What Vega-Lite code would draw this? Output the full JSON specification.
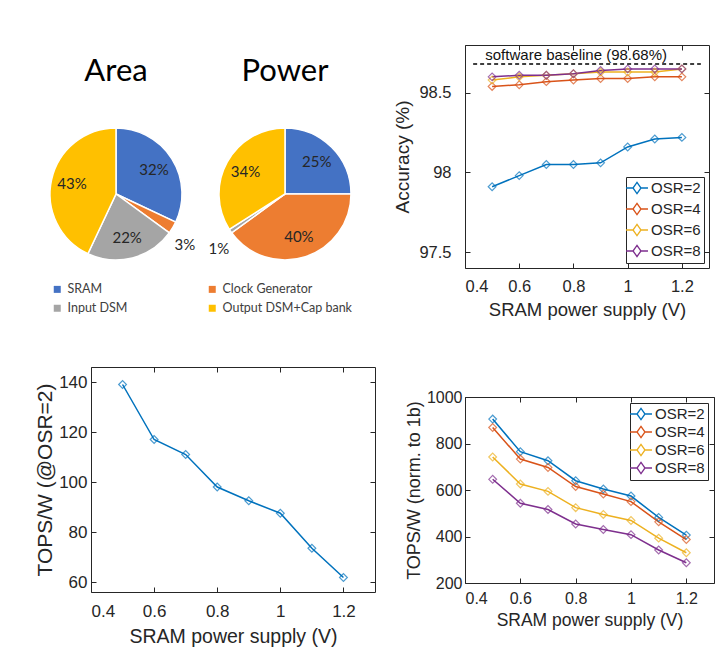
{
  "$schema": "https://vega.github.io/schema/vega-lite/v6.json",
  "autosize": {"type": "none"},
  "padding": {"left": 91, "top": 45, "right": 627, "bottom": 603},
  "background": "white",
  "datasets": {
    "pies": [
      {"chart": "Area", "part": "SRAM", "k": 1, "share": 0.32},
      {"chart": "Area", "part": "Clock Generator", "k": 2, "share": 0.03},
      {"chart": "Area", "part": "Input DSM", "k": 3, "share": 0.22},
      {"chart": "Area", "part": "Output DSM+Cap bank", "k": 4, "share": 0.43},
      {"chart": "Power", "part": "SRAM", "k": 1, "share": 0.25},
      {"chart": "Power", "part": "Clock Generator", "k": 2, "share": 0.40},
      {"chart": "Power", "part": "Input DSM", "k": 3, "share": 0.01},
      {"chart": "Power", "part": "Output DSM+Cap bank", "k": 4, "share": 0.34}
    ],
    "acc": [
      {"v": 0.5, "osr": "OSR=2", "acc": 97.91}, {"v": 0.6, "osr": "OSR=2", "acc": 97.98}, {"v": 0.7, "osr": "OSR=2", "acc": 98.05}, {"v": 0.8, "osr": "OSR=2", "acc": 98.05},
      {"v": 0.9, "osr": "OSR=2", "acc": 98.06}, {"v": 1.0, "osr": "OSR=2", "acc": 98.16}, {"v": 1.1, "osr": "OSR=2", "acc": 98.21}, {"v": 1.2, "osr": "OSR=2", "acc": 98.22},
      {"v": 0.5, "osr": "OSR=4", "acc": 98.54}, {"v": 0.6, "osr": "OSR=4", "acc": 98.55}, {"v": 0.7, "osr": "OSR=4", "acc": 98.57}, {"v": 0.8, "osr": "OSR=4", "acc": 98.58},
      {"v": 0.9, "osr": "OSR=4", "acc": 98.59}, {"v": 1.0, "osr": "OSR=4", "acc": 98.59}, {"v": 1.1, "osr": "OSR=4", "acc": 98.60}, {"v": 1.2, "osr": "OSR=4", "acc": 98.60},
      {"v": 0.5, "osr": "OSR=6", "acc": 98.58}, {"v": 0.6, "osr": "OSR=6", "acc": 98.60}, {"v": 0.7, "osr": "OSR=6", "acc": 98.61}, {"v": 0.8, "osr": "OSR=6", "acc": 98.62},
      {"v": 0.9, "osr": "OSR=6", "acc": 98.63}, {"v": 1.0, "osr": "OSR=6", "acc": 98.63}, {"v": 1.1, "osr": "OSR=6", "acc": 98.63}, {"v": 1.2, "osr": "OSR=6", "acc": 98.65},
      {"v": 0.5, "osr": "OSR=8", "acc": 98.60}, {"v": 0.6, "osr": "OSR=8", "acc": 98.61}, {"v": 0.7, "osr": "OSR=8", "acc": 98.61}, {"v": 0.8, "osr": "OSR=8", "acc": 98.62},
      {"v": 0.9, "osr": "OSR=8", "acc": 98.64}, {"v": 1.0, "osr": "OSR=8", "acc": 98.65}, {"v": 1.1, "osr": "OSR=8", "acc": 98.65}, {"v": 1.2, "osr": "OSR=8", "acc": 98.65}
    ],
    "baseline": [
      {"acc": 98.68, "from": 0.43, "to": 1.27, "label": "software baseline (98.68%)"}
    ],
    "tops": [
      {"v": 0.5, "tops": 139}, {"v": 0.6, "tops": 117}, {"v": 0.7, "tops": 111}, {"v": 0.8, "tops": 98},
      {"v": 0.9, "tops": 92.5}, {"v": 1.0, "tops": 87.5}, {"v": 1.1, "tops": 73.5}, {"v": 1.2, "tops": 61.8}
    ],
    "tops1b": [
      {"v": 0.5, "osr": "OSR=2", "t": 905}, {"v": 0.6, "osr": "OSR=2", "t": 765}, {"v": 0.7, "osr": "OSR=2", "t": 726}, {"v": 0.8, "osr": "OSR=2", "t": 640},
      {"v": 0.9, "osr": "OSR=2", "t": 604}, {"v": 1.0, "osr": "OSR=2", "t": 574}, {"v": 1.1, "osr": "OSR=2", "t": 482}, {"v": 1.2, "osr": "OSR=2", "t": 406},
      {"v": 0.5, "osr": "OSR=4", "t": 869}, {"v": 0.6, "osr": "OSR=4", "t": 733}, {"v": 0.7, "osr": "OSR=4", "t": 697}, {"v": 0.8, "osr": "OSR=4", "t": 615},
      {"v": 0.9, "osr": "OSR=4", "t": 583}, {"v": 1.0, "osr": "OSR=4", "t": 550}, {"v": 1.1, "osr": "OSR=4", "t": 463}, {"v": 1.2, "osr": "OSR=4", "t": 387},
      {"v": 0.5, "osr": "OSR=6", "t": 742}, {"v": 0.6, "osr": "OSR=6", "t": 626}, {"v": 0.7, "osr": "OSR=6", "t": 594}, {"v": 0.8, "osr": "OSR=6", "t": 524},
      {"v": 0.9, "osr": "OSR=6", "t": 495}, {"v": 1.0, "osr": "OSR=6", "t": 469}, {"v": 1.1, "osr": "OSR=6", "t": 393}, {"v": 1.2, "osr": "OSR=6", "t": 330},
      {"v": 0.5, "osr": "OSR=8", "t": 646}, {"v": 0.6, "osr": "OSR=8", "t": 543}, {"v": 0.7, "osr": "OSR=8", "t": 516}, {"v": 0.8, "osr": "OSR=8", "t": 454},
      {"v": 0.9, "osr": "OSR=8", "t": 430}, {"v": 1.0, "osr": "OSR=8", "t": 408}, {"v": 1.1, "osr": "OSR=8", "t": 342}, {"v": 1.2, "osr": "OSR=8", "t": 287}
    ]
  },
  "config": {
    "view": {"stroke": null},
    "axis": {
      "labelFont": "Liberation Sans", "labelFontSize": 17, "labelColor": "#262626",
      "titleFont": "Liberation Sans", "titleFontSize": 19, "titleFontWeight": "normal", "titleColor": "#262626",
      "domain": false, "grid": false, "tickColor": "#262626", "tickSize": -5, "tickWidth": 1
    }
  },
  "bounds": "flush",
  "spacing": 374,
  "resolve": {"scale": {"color": "independent"}, "legend": {"color": "independent"}},
  "hconcat": [
    {
      "bounds": "flush",
      "spacing": 322,
      "resolve": {"scale": {"color": "independent"}, "legend": {"color": "independent"}},
      "vconcat": [
        {
          "data": {"name": "pies"},
          "facet": {"column": {"field": "chart", "type": "nominal", "sort": ["Area", "Power"],
            "header": {"title": null, "labelFont": "Lato", "labelFontSize": 31, "labelColor": "black", "labelPadding": -67, "labelBaseline": "alphabetic"}}},
          "bounds": "flush",
          "spacing": 119,
          "spec": {
            "width": 50, "height": 298,
            "layer": [
              {
                "mark": {"type": "arc", "outerRadius": 66, "stroke": "white", "strokeWidth": 1.5},
                "encoding": {
                  "theta": {"field": "share", "type": "quantitative", "stack": true},
                  "order": {"field": "k", "type": "quantitative"},
                  "color": {"field": "part", "type": "nominal",
                    "scale": {"domain": ["SRAM", "Input DSM", "Clock Generator", "Output DSM+Cap bank"], "range": ["#4472C4", "#A5A5A5", "#ED7D31", "#FFC000"]},
                    "legend": {"orient": "none", "legendX": -40, "legendY": 238, "columns": 2, "title": null, "symbolType": "square", "symbolSize": 49, "symbolStrokeWidth": 0,
                      "labelFont": "Lato", "labelFontSize": 12.5, "labelColor": "#404040", "columnPadding": 78, "rowPadding": 6, "padding": 0, "labelOffset": 4}}
                }
              },
              {
                "mark": {"type": "text", "radius": 45, "font": "Lato", "fontSize": 15, "color": "#262626"},
                "encoding": {
                  "theta": {"field": "share", "type": "quantitative", "stack": true},
                  "order": {"field": "k", "type": "quantitative"},
                  "text": {"condition": {"test": "datum.share >= 0.05", "field": "share", "type": "quantitative", "format": ".0%"}, "value": ""}
                }
              },
              {
                "mark": {"type": "text", "radius": 80, "dy": 10, "font": "Lato", "fontSize": 15, "color": "#262626"},
                "encoding": {
                  "theta": {"field": "share", "type": "quantitative", "stack": true},
                  "order": {"field": "k", "type": "quantitative"},
                  "text": {"condition": {"test": "datum.share < 0.05", "field": "share", "type": "quantitative", "format": ".0%"}, "value": ""}
                }
              }
            ]
          }
        },
        {
          "width": 284, "height": 225,
          "view": {"stroke": "#262626", "strokeWidth": 1},
          "data": {"name": "tops"},
          "resolve": {"axis": {"x": "independent", "y": "independent"}},
          "layer": [
            {
              "mark": {"type": "line", "color": "#0072BD", "strokeWidth": 1.5},
              "encoding": {
                "x": {"field": "v", "type": "quantitative", "title": "SRAM power supply (V)",
                  "scale": {"domain": [0.4, 1.3], "nice": false, "zero": false},
                  "axis": {"values": [0.4, 0.6, 0.8, 1, 1.2], "format": ".1~f", "labelPadding": 16, "titlePadding": 8, "titleFontSize": 19.5}},
                "y": {"field": "tops", "type": "quantitative", "title": "TOPS/W (@OSR=2)",
                  "scale": {"domain": [56, 146], "nice": false, "zero": false},
                  "axis": {"values": [60, 80, 100, 120, 140], "format": ".0f", "labelPadding": 9, "titlePadding": 3, "titleFontSize": 21}}
              }
            },
            {
              "mark": {"type": "point", "shape": "diamond", "filled": false, "size": 60, "strokeWidth": 1.2, "color": "#0072BD"},
              "encoding": {
                "x": {"field": "v", "type": "quantitative", "axis": {"orient": "top", "values": [0.4, 0.6, 0.8, 1, 1.2], "labels": false, "title": null}},
                "y": {"field": "tops", "type": "quantitative", "axis": {"orient": "right", "values": [60, 80, 100, 120, 140], "labels": false, "title": null}}
              }
            }
          ]
        }
      ]
    },
    {
      "bounds": "flush",
      "spacing": 129,
      "resolve": {"scale": {"color": "independent"}, "legend": {"color": "independent"}},
      "vconcat": [
        {
          "width": 244, "height": 223,
          "view": {"stroke": "#262626", "strokeWidth": 1},
          "resolve": {"axis": {"x": "independent", "y": "independent"}},
          "layer": [
            {
              "data": {"name": "acc"},
              "mark": {"type": "line", "strokeWidth": 1.5},
              "encoding": {
                "x": {"field": "v", "type": "quantitative", "title": "SRAM power supply (V)",
                  "scale": {"domain": [0.4, 1.3], "nice": false, "zero": false},
                  "axis": {"values": [0.4, 0.6, 0.8, 1, 1.2], "format": ".1~f", "labelPadding": 15, "titlePadding": 6, "titleFontSize": 18.5, "labelFontSize": 16.5}},
                "y": {"field": "acc", "type": "quantitative", "title": "Accuracy (%)",
                  "scale": {"domain": [97.4, 98.8], "nice": false, "zero": false},
                  "axis": {"values": [97.5, 98, 98.5], "format": ".1~f", "labelPadding": 19, "titlePadding": 6, "labelFontSize": 16.5}},
                "color": {"field": "osr", "type": "nominal",
                  "scale": {"domain": ["OSR=2", "OSR=4", "OSR=6", "OSR=8"], "range": ["#0072BD", "#D95319", "#EDB120", "#7E2F8E"]},
                  "legend": {"orient": "bottom-right", "offset": 5, "title": null, "fillColor": "white", "strokeColor": "#262626", "padding": 3,
                    "labelFont": "Liberation Sans", "labelFontSize": 15, "labelColor": "#262626", "labelOffset": 6, "rowPadding": 3,
                    "symbolType": "M-1.57,0L-0.57,0M0.57,0L1.57,0M0,-0.79L0.57,0L0,0.79L-0.57,0Z", "symbolSize": 196, "symbolStrokeWidth": 1.3, "symbolFillColor": "transparent"}}
              }
            },
            {
              "data": {"name": "acc"},
              "mark": {"type": "point", "shape": "diamond", "filled": false, "size": 60, "strokeWidth": 1.2},
              "encoding": {
                "x": {"field": "v", "type": "quantitative", "axis": {"orient": "top", "values": [0.4, 0.6, 0.8, 1, 1.2], "labels": false, "title": null}},
                "y": {"field": "acc", "type": "quantitative", "axis": {"orient": "right", "values": [97.5, 98, 98.5], "labels": false, "title": null}},
                "color": {"field": "osr", "type": "nominal", "legend": null}
              }
            },
            {
              "data": {"name": "baseline"},
              "mark": {"type": "rule", "color": "black", "strokeDash": [4, 3], "strokeWidth": 1.5},
              "encoding": {
                "x": {"field": "from", "type": "quantitative", "axis": null},
                "x2": {"field": "to"},
                "y": {"field": "acc", "type": "quantitative", "axis": null}
              }
            },
            {
              "data": {"name": "baseline"},
              "mark": {"type": "text", "font": "Liberation Sans", "fontSize": 15, "color": "#111111", "baseline": "alphabetic", "dy": -4},
              "encoding": {
                "x": {"datum": 0.81, "type": "quantitative", "axis": null},
                "y": {"field": "acc", "type": "quantitative", "axis": null},
                "text": {"field": "label"}
              }
            }
          ]
        },
        {
          "width": 249, "height": 186,
          "view": {"stroke": "#262626", "strokeWidth": 1},
          "data": {"name": "tops1b"},
          "resolve": {"axis": {"x": "independent", "y": "independent"}},
          "layer": [
            {
              "mark": {"type": "line", "strokeWidth": 1.5},
              "encoding": {
                "x": {"field": "v", "type": "quantitative", "title": "SRAM power supply (V)",
                  "scale": {"domain": [0.4, 1.3], "nice": false, "zero": false},
                  "axis": {"values": [0.4, 0.6, 0.8, 1, 1.2], "format": ".1~f", "labelPadding": 12, "titlePadding": 5, "titleFontSize": 17.5, "labelFontSize": 16}},
                "y": {"field": "t", "type": "quantitative", "title": "TOPS/W (norm. to 1b)",
                  "scale": {"domain": [200, 1000], "nice": false, "zero": false},
                  "axis": {"values": [200, 400, 600, 800, 1000], "format": ".0f", "labelPadding": 8, "titlePadding": 3, "titleFontSize": 18, "labelFontSize": 16}},
                "color": {"field": "osr", "type": "nominal",
                  "scale": {"domain": ["OSR=2", "OSR=4", "OSR=6", "OSR=8"], "range": ["#0072BD", "#D95319", "#EDB120", "#7E2F8E"]},
                  "legend": {"orient": "top-right", "offset": 6, "title": null, "fillColor": "white", "strokeColor": "#262626", "padding": 3,
                    "labelFont": "Liberation Sans", "labelFontSize": 15, "labelColor": "#262626", "labelOffset": 6, "rowPadding": 0,
                    "symbolType": "M-1.57,0L-0.57,0M0.57,0L1.57,0M0,-0.79L0.57,0L0,0.79L-0.57,0Z", "symbolSize": 196, "symbolStrokeWidth": 1.3, "symbolFillColor": "transparent"}}
              }
            },
            {
              "mark": {"type": "point", "shape": "diamond", "filled": false, "size": 60, "strokeWidth": 1.2},
              "encoding": {
                "x": {"field": "v", "type": "quantitative", "axis": {"orient": "top", "values": [0.4, 0.6, 0.8, 1, 1.2], "labels": false, "title": null}},
                "y": {"field": "t", "type": "quantitative", "axis": {"orient": "right", "values": [200, 400, 600, 800, 1000], "labels": false, "title": null}},
                "color": {"field": "osr", "type": "nominal", "legend": null}
              }
            }
          ]
        }
      ]
    }
  ]
}
